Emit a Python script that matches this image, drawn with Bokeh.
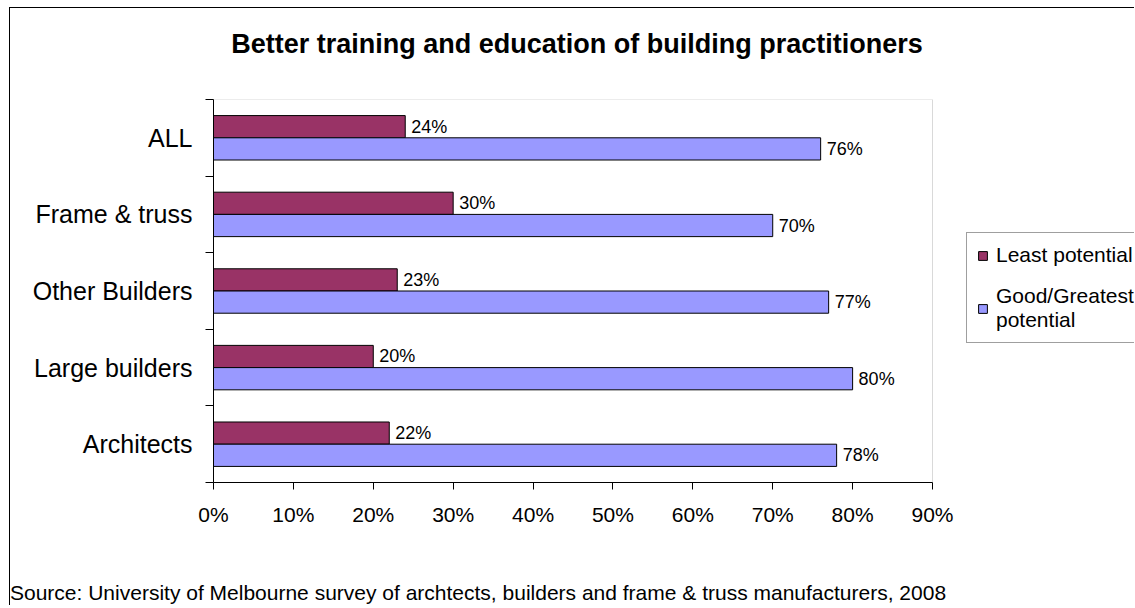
import html
from bokeh.plotting import figure
from bokeh.layouts import column
from bokeh.models import (ColumnDataSource, FixedTicker, LabelSet, Legend, LegendItem,
                          Range1d, BoxAnnotation, Div)
from bokeh.core.properties import value
from bokeh.embed import file_html
from bokeh.resources import INLINE

# ---- data ----
categories = ["Architects", "Large builders", "Other Builders", "Frame & truss", "ALL"]
least = [22, 20, 23, 30, 24]
good = [78, 80, 77, 70, 76]
series_names = ["Least potential", "Good/Greatest\npotential"]
series_colors = ["#993366", "#9999FF"]
x_ticks = [0, 10, 20, 30, 40, 50, 60, 70, 80, 90]
x_tick_labels = ["0%", "10%", "20%", "30%", "40%", "50%", "60%", "70%", "80%", "90%"]
title_text = "Better training and education of building practitioners"
source_text = ("Source: University of Melbourne survey of archtects, builders and "
               "frame & truss manufacturers, 2008")

FONT = "Liberation Sans"
BAR_H = 0.29

# ---- layout (pixels) ----
W = 1124
LEFT = 203          # space left of plot area
PLOT_W = 719        # width of the 0..90% plot area
TOP = 39
PLOT_H = 383
BOTTOM = 50
H = TOP + PLOT_H + BOTTOM
FRAME_W = W - LEFT  # frame runs to the right edge so the legend can sit in it
x_max = x_ticks[-1] * FRAME_W / PLOT_W

n = len(categories)
centers = [i + 0.5 for i in range(n)]

p = figure(width=W, height=H, output_backend="svg", toolbar_location=None,
           x_range=Range1d(0, x_max), y_range=Range1d(0, n),
           min_border_left=LEFT, min_border_right=0, min_border_top=TOP,
           min_border_bottom=BOTTOM)
p.title.text = ""
p.background_fill_color = "white"
p.border_fill_color = "white"
p.outline_line_color = None
p.xgrid.visible = False
p.ygrid.visible = False

# plot-area border (grey, top/right visible; left/bottom under the black axes)
p.add_layout(BoxAnnotation(left=0, right=x_ticks[-1], bottom=0, top=n,
                           fill_alpha=0, line_color="#808080", line_width=1,
                           level="underlay"))

src_least = ColumnDataSource(dict(
    y=[c + BAR_H / 2 for c in centers], v=least,
    lab=[f"{v}%" for v in least]))
src_good = ColumnDataSource(dict(
    y=[c - BAR_H / 2 for c in centers], v=good,
    lab=[f"{v}%" for v in good]))

r1 = p.hbar(y="y", right="v", left=0, height=BAR_H, source=src_least,
            fill_color=series_colors[0], line_color="black", line_width=1)
r2 = p.hbar(y="y", right="v", left=0, height=BAR_H, source=src_good,
            fill_color=series_colors[1], line_color="black", line_width=1)

for s in (src_least, src_good):
    p.add_layout(LabelSet(x="v", y="y", text="lab", source=s, x_offset=6,
                          text_baseline="middle", text_align="left",
                          text_font=value(FONT), text_font_size=value("18px"),
                          text_color="black"))

# x axis
xa = p.xaxis[0]
xa.bounds = (x_ticks[0], x_ticks[-1])
xa.ticker = FixedTicker(ticks=x_ticks)
xa.major_label_overrides = {t: l for t, l in zip(x_ticks, x_tick_labels)}
xa.major_label_text_font = FONT
xa.major_label_text_font_size = "21px"
xa.major_label_text_color = "black"
xa.axis_line_color = "black"
xa.major_tick_line_color = "black"
xa.major_tick_out = 7
xa.major_tick_in = 0
xa.minor_tick_line_color = None
xa.major_label_standoff = 13

# y axis: labels at category centres, ticks at band boundaries
ya = p.yaxis[0]
ya.ticker = FixedTicker(ticks=centers, minor_ticks=list(range(n + 1)))
ya.major_label_overrides = {c: cat for c, cat in zip(centers, categories)}
ya.major_label_text_font = FONT
ya.major_label_text_font_size = "25px"
ya.major_label_text_color = "black"
ya.axis_line_color = "black"
ya.major_tick_line_color = None
ya.major_tick_out = 0
ya.major_tick_in = 0
ya.minor_tick_line_color = "black"
ya.minor_tick_out = 8
ya.minor_tick_in = 0
ya.major_label_standoff = 13

legend = Legend(items=[LegendItem(label=series_names[0], renderers=[r1]),
                       LegendItem(label=series_names[1], renderers=[r2])],
                location=(753, 139))
legend.label_text_font = FONT
legend.label_text_font_size = "21px"
legend.label_text_line_height = 1.25
legend.label_text_color = "black"
legend.glyph_width = 11
legend.glyph_height = 11
legend.label_standoff = 8
legend.padding = 10
legend.spacing = 17
legend.margin = 0
legend.border_line_color = "#404040"
legend.border_line_width = 1
legend.background_fill_color = "white"
legend.background_fill_alpha = 1
p.add_layout(legend)

title_div = Div(text=html.escape(title_text), width=W - 10, height=32,
                margin=(20, 0, 0, 10),
                styles={"font-family": FONT, "font-size": "27px", "font-weight": "bold",
                        "line-height": "32px", "text-align": "center",
                        "color": "black", "white-space": "nowrap"})

src_div = Div(text=html.escape(source_text), width=W, height=25, margin=(48, 0, 0, 0),
              styles={"font-family": FONT, "font-size": "21px", "line-height": "25px",
                      "color": "black", "white-space": "nowrap"})

layout = column(title_div, p, src_div, spacing=0, margin=(7, 0, 0, 9),
                styles={"border-left": "1px solid #000", "border-top": "1px solid #000",
                        "background-color": "white"})

open("out.html", "w").write(file_html(layout, INLINE))
